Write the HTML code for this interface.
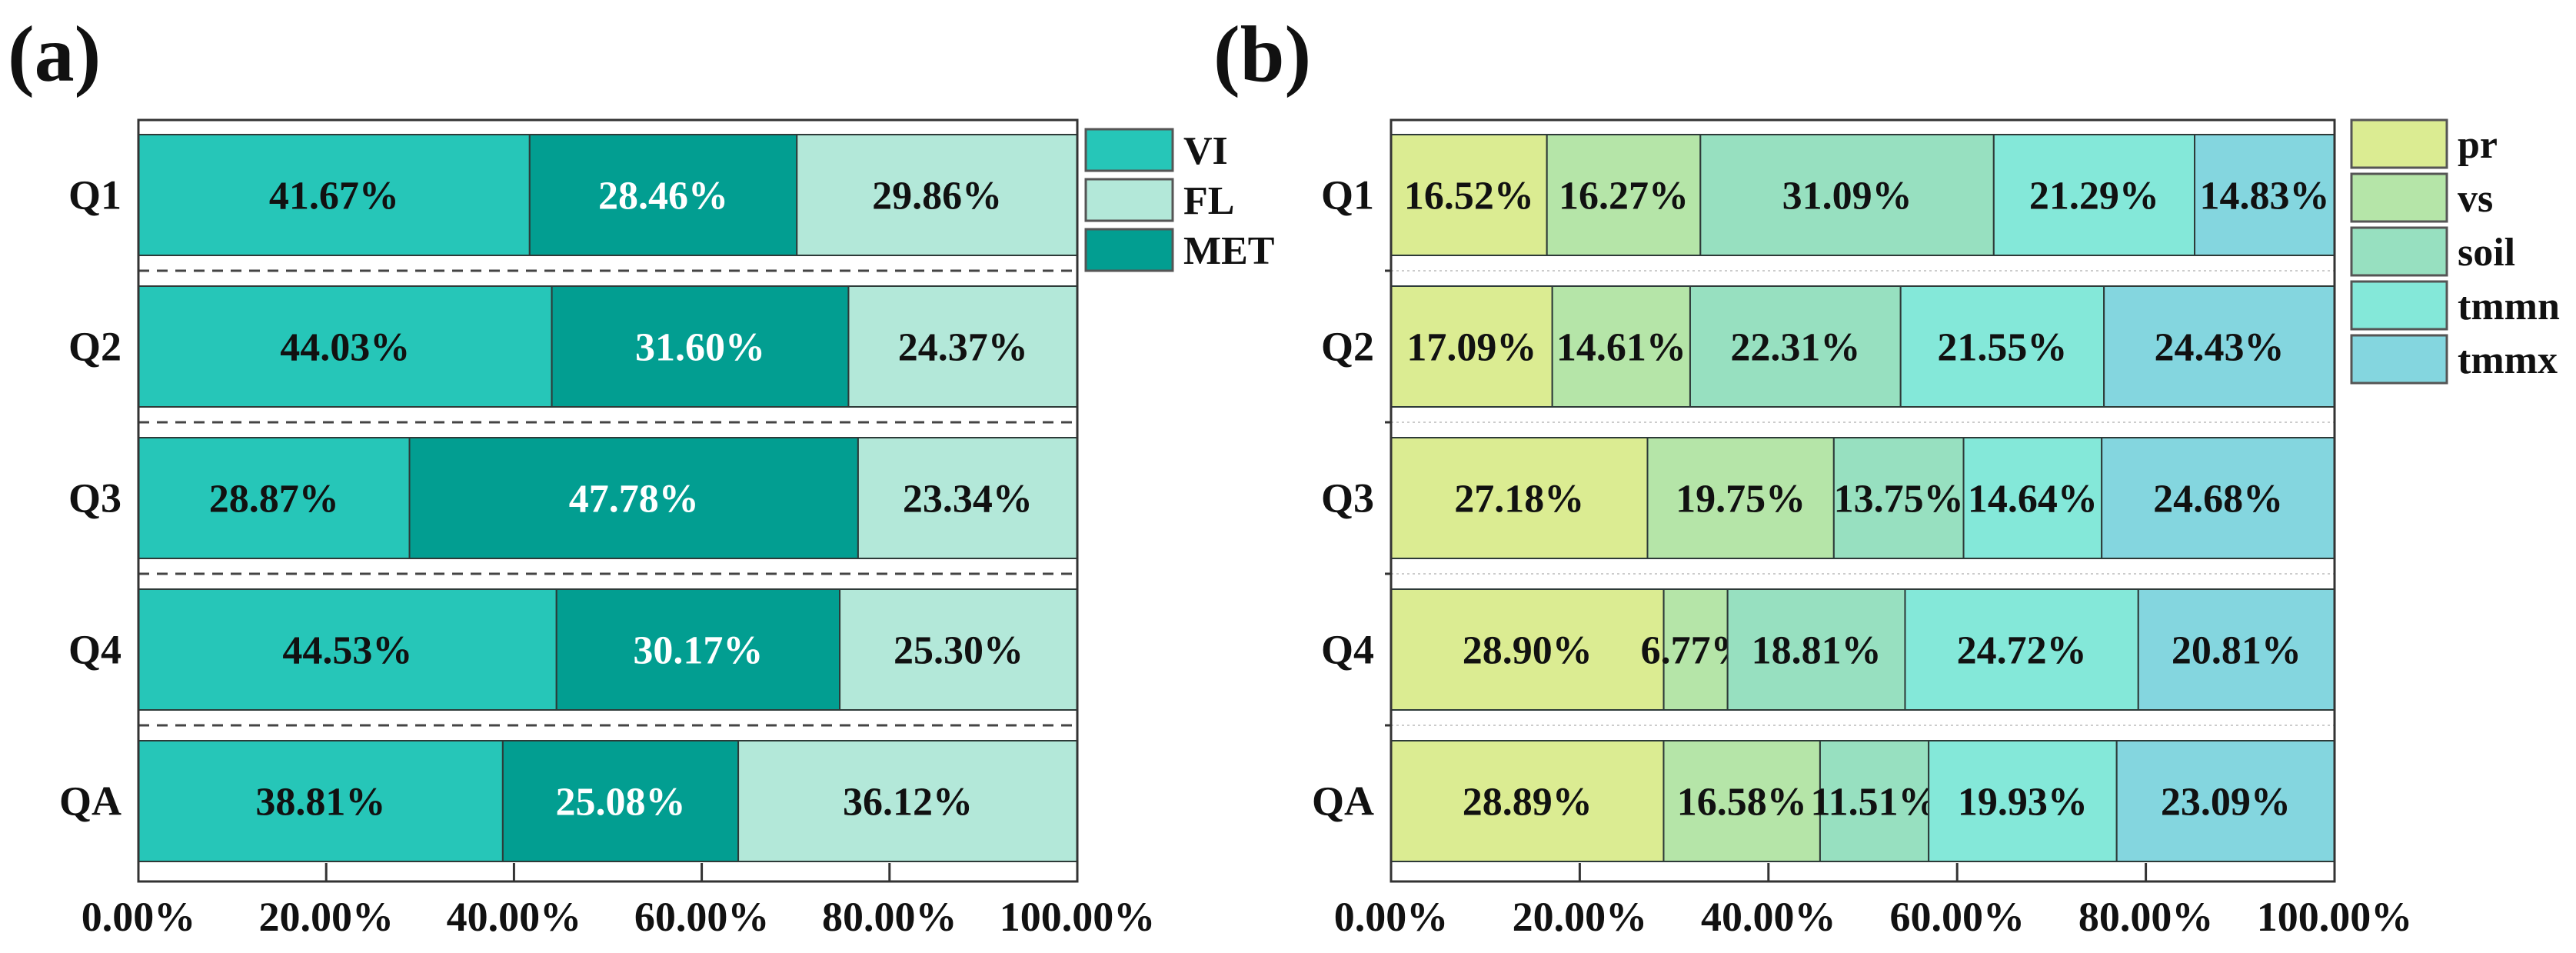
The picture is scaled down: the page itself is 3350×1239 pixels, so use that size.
<!DOCTYPE html>
<html><head><meta charset="utf-8"><style>
html,body{margin:0;padding:0;background:#fff;}
svg{display:block;}
svg text{font-family:"Liberation Serif","Times New Roman","DejaVu Serif",serif;font-weight:700;}
</style></head><body>
<svg id="chart" width="3350" height="1239" viewBox="0 0 3350 1239"></svg>
<script>
const categories = ["Q1","Q2","Q3","Q4","QA"];
const seriesA = ["VI","MET","FL"];
const legendA = ["VI","FL","MET"];
const viValues = [41.67,44.03,28.87,44.53,38.81];
const metValues = [28.46,31.60,47.78,30.17,25.08];
const flValues = [29.86,24.37,23.34,25.30,36.12];
const seriesB = ["pr","vs","soil","tmmn","tmmx"];
const prValues = [16.52,17.09,27.18,28.90,28.89];
const vsValues = [16.27,14.61,19.75,6.77,16.58];
const soilValues = [31.09,22.31,13.75,18.81,11.51];
const tmmnValues = [21.29,21.55,14.64,24.72,19.93];
const tmmxValues = [14.83,24.43,24.68,20.81,23.09];
const tickValues = [0,20,40,60,80,100];
const tickLabels = ["0.00%","20.00%","40.00%","60.00%","80.00%","100.00%"];

const colA = {VI:"#26c6b8",MET:"#029e91",FL:"#b3e8d9"};
const txtA = {VI:"#111",MET:"#fff",FL:"#111"};
const colB = {pr:"#dbec92",vs:"#b5e5a8",soil:"#97e0c0",tmmn:"#84e8d9",tmmx:"#84d6df"};
const FONT = '"Liberation Serif","Times New Roman","DejaVu Serif",serif';

const svg = document.getElementById('chart');
const NS = "http://www.w3.org/2000/svg";
function mk(tag, attrs, parent){
  const e = document.createElementNS(NS, tag);
  for (const k in attrs) e.setAttribute(k, attrs[k]);
  if (tag === 'text'){ e.setAttribute('font-family', FONT); e.setAttribute('font-weight','bold'); }
  (parent||svg).appendChild(e);
  return e;
}
const T = 175, P = 197, BH = 157, TOP = 156, BOT = 1146;
function yBand(i){ return T + i*P; }

function panel(opts){
  const g = mk('g', {});
  
  
  const L = opts.left, R = opts.right;
  const x = v => L + (R-L)*v/100;
  for (let i=0;i<categories.length-1;i++){
    const yy = yBand(i)+BH+(P-BH)/2;
    const s = mk('line',{x1:L,x2:R,y1:yy,y2:yy,stroke:opts.sepColor,'stroke-width':opts.sepW,'stroke-dasharray':opts.sepDash},g);
    
    
    if (opts.sideTicks){
      const tk = mk('line',{x1:L-8,x2:L,y1:yy,y2:yy,stroke:'#333','stroke-width':3},g);
      
      
    }
  }
  categories.forEach((c,i)=>{
    let acc = 0;
    const y0 = yBand(i);
    opts.series.forEach((s,j)=>{
      const v = opts.values[j][i];
      const a = Math.min(acc,100), b = Math.min(acc+v,100);
      const r = mk('rect',{x:x(a),y:y0,width:Math.max(0,x(b)-x(a)),height:BH,fill:opts.colors[s],stroke:'#2d3a38','stroke-width':2},g);
      
      
      const t = mk('text',{x:(x(a)+x(b))/2,y:y0+BH/2+18,'text-anchor':'middle','font-size':52,fill:opts.txt?opts.txt[s]:'#111'},g);
      t.textContent = v.toFixed(2)+'%';
      
      
      acc += v;
    });
    const cl = mk('text',{x:L-22,y:y0+BH/2+18,'text-anchor':'end','font-size':54,fill:'#111'},g);
    cl.textContent = c;
    
    
  });
  const f = mk('rect',{x:L,y:TOP,width:R-L,height:BOT-TOP,fill:'none',stroke:'#333','stroke-width':3},g);
  
  
  tickValues.forEach((v,k)=>{
    const tk = mk('line',{x1:x(v),x2:x(v),y1:BOT,y2:BOT-24,stroke:'#333','stroke-width':3},g);
    
    
    const tl = mk('text',{x:x(v),y:BOT+64,'text-anchor':'middle','font-size':54,fill:'#111'},g);
    tl.textContent = tickLabels[k];
    
    
  });
  opts.legend.forEach((s,k)=>{
    const ly = opts.legTop + k*opts.legStep;
    const lr = mk('rect',{x:opts.legX,y:ly,width:opts.legW,height:opts.legH,fill:opts.colors[s],stroke:'#555','stroke-width':3},g);
    
    
    const lt = mk('text',{x:opts.legX+opts.legW+14,y:ly+opts.legH/2+18,'font-size':52,fill:'#111'},g);
    lt.textContent = s;
    
    
  });
  const pl = mk('text',{x:opts.labelX,y:105,'font-size':104,fill:'#111'},g);
  pl.textContent = opts.label;
  
  
}

panel({name:'panel-a',left:180,right:1401,series:seriesA,values:[viValues,metValues,flValues],
  colors:colA,txt:txtA,legend:legendA,legX:1412,legTop:168,legStep:65,legW:113,legH:54,
  sepColor:'#444',sepW:3,sepDash:'14 10',sideTicks:false,label:'(a)',labelX:10});
panel({name:'panel-b',left:1809,right:3036,series:seriesB,values:[prValues,vsValues,soilValues,tmmnValues,tmmxValues],
  colors:colB,legend:seriesB,legX:3058,legTop:156,legStep:70,legW:124,legH:62,
  sepColor:'#ccc',sepW:2,sepDash:'3 4',sideTicks:true,label:'(b)',labelX:1578});
</script>
</body></html>
